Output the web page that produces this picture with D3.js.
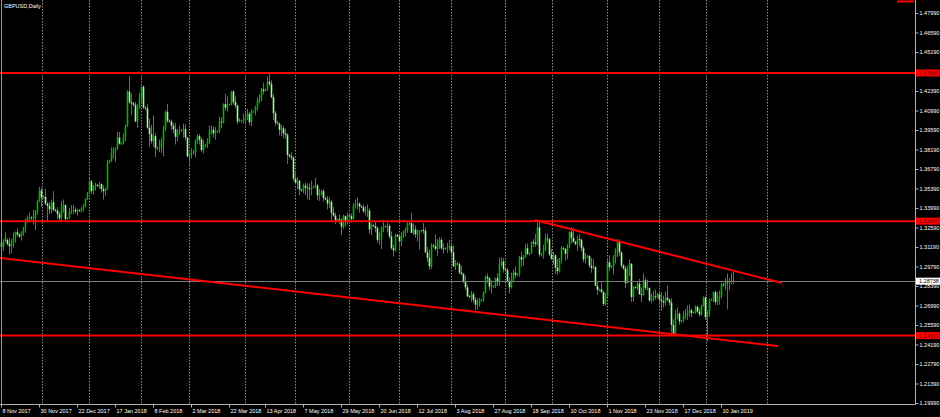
<!DOCTYPE html>
<html><head><meta charset="utf-8">
<script src="https://cdn.jsdelivr.net/npm/d3@7"></script>
<style>html,body{margin:0;padding:0;background:#000;overflow:hidden}</style>
</head><body><svg id="c" width="940" height="417"></svg>
<script>
const chartTitle = "GBPUSD,Daily";
const priceTicks = [1.47990,1.46590,1.45190,1.43790,1.42390,1.40990,1.39590,1.38190,1.36790,1.35390,1.33990,1.32590,1.31190,1.29790,1.28390,1.26990,1.25590,1.24190,1.22790,1.21390,1.19990];
const dateLabels = ["8 Nov 2017","30 Nov 2017","22 Dec 2017","17 Jan 2018","8 Feb 2018","2 Mar 2018","22 Mar 2018","13 Apr 2018","7 May 2018","29 May 2018","20 Jun 2018","12 Jul 2018","3 Aug 2018","27 Aug 2018","18 Sep 2018","10 Oct 2018","1 Nov 2018","23 Nov 2018","17 Dec 2018","10 Jan 2019"];
const dateLabelBars = [0,19,38,57,76,95,114,132,151,170,189,208,227,246,265,284,303,322,341,360];
const monthGridBars = [20.5,44,70,94,122,147,174,199,225,252,275.5,303,329,352.5,383];
const levelPrices = [1.43685,1.33045,1.24829];
const levelLabels = ["1.43685","1.33045","1.24829"];
const bidPrice = 1.28738;
const bidLabel = "1.28738";
const lowerTrend = [[-0.5,1.30400],[388.5,1.24082]];
const upperTrend = [[267,1.33128],[390.5,1.28605]];
const topMarkBars = [448, 456.5];
const topMarkPrice = 1.4882;

// OHLC rows per month [open, high, low, close]
const nov17 = [
[1.3150,1.3175,1.3110,1.3120],[1.3120,1.3175,1.3090,1.3160],[1.3160,1.3225,1.3150,1.3190],
[1.3170,1.3180,1.3130,1.3140],[1.3140,1.3185,1.3065,1.3125],[1.3125,1.3175,1.3075,1.3155],[1.3155,1.3225,1.3115,1.3185],[1.3185,1.3230,1.3150,1.3225],[1.3225,1.3255,1.3195,1.3210],
[1.3210,1.3215,1.3185,1.3195],[1.3195,1.3230,1.3165,1.3230],[1.3230,1.3265,1.3200,1.3260],[1.3260,1.3325,1.3220,1.3305],[1.3305,1.3345,1.3290,1.3330],[1.3330,1.3365,1.3300,1.3330],
[1.3330,1.3340,1.3315,1.3325],[1.3325,1.3385,1.3280,1.3330],[1.3330,1.3385,1.3240,1.3375],[1.3375,1.3460,1.3350,1.3450],[1.3450,1.3550,1.3440,1.3525]];
const dec17 = [
[1.3525,1.3545,1.3405,1.3475],
[1.3475,1.3490,1.3465,1.3480],[1.3480,1.3535,1.3420,1.3430],[1.3430,1.3440,1.3300,1.3415],[1.3415,1.3440,1.3355,1.3390],[1.3390,1.3460,1.3360,1.3440],[1.3440,1.3520,1.3375,1.3385],
[1.3385,1.3395,1.3370,1.3380],[1.3380,1.3405,1.3320,1.3355],[1.3355,1.3375,1.3300,1.3325],[1.3325,1.3450,1.3305,1.3420],[1.3420,1.3460,1.3365,1.3420],[1.3420,1.3425,1.3300,1.3320],
[1.3320,1.3335,1.3315,1.3330],[1.3330,1.3400,1.3320,1.3375],[1.3375,1.3420,1.3355,1.3380],[1.3380,1.3420,1.3355,1.3385],[1.3385,1.3405,1.3360,1.3375],[1.3375,1.3395,1.3345,1.3385],
[1.3385,1.3390,1.3370,1.3380],[1.3380,1.3405,1.3365,1.3395],[1.3395,1.3430,1.3375,1.3415],[1.3415,1.3470,1.3405,1.3465],[1.3465,1.3515,1.3455,1.3510]];
const jan18 = [
[1.3510,1.3615,1.3500,1.3590],[1.3590,1.3600,1.3500,1.3520],[1.3520,1.3565,1.3495,1.3560],[1.3560,1.3580,1.3525,1.3565],
[1.3565,1.3570,1.3550,1.3560],[1.3560,1.3585,1.3535,1.3570],[1.3570,1.3575,1.3510,1.3535],[1.3535,1.3560,1.3460,1.3520],[1.3520,1.3545,1.3485,1.3535],[1.3535,1.3745,1.3525,1.3725],
[1.3725,1.3745,1.3720,1.3740],[1.3740,1.3835,1.3730,1.3795],[1.3795,1.3835,1.3755,1.3820],[1.3820,1.3835,1.3730,1.3825],[1.3825,1.3945,1.3815,1.3905],[1.3905,1.3945,1.3855,1.3860],
[1.3860,1.3870,1.3850,1.3865],[1.3865,1.3935,1.3855,1.3910],[1.3910,1.4000,1.3880,1.3985],[1.3985,1.4245,1.3980,1.4235],[1.4235,1.4345,1.4145,1.4160],[1.4160,1.4220,1.4070,1.4150],
[1.4150,1.4160,1.4130,1.4140],[1.4140,1.4160,1.4015,1.4020],[1.4020,1.4145,1.3975,1.4120],[1.4120,1.4225,1.4110,1.4190]];
const feb18 = [
[1.4190,1.4285,1.4150,1.4270],[1.4270,1.4280,1.4110,1.4120],
[1.4120,1.4130,1.4100,1.4115],[1.4115,1.4145,1.3965,1.3975],[1.3975,1.4040,1.3840,1.3930],[1.3930,1.3995,1.3860,1.3880],[1.3880,1.4065,1.3840,1.3915],[1.3915,1.3935,1.3765,1.3830],
[1.3830,1.3840,1.3815,1.3830],[1.3830,1.3890,1.3800,1.3830],[1.3830,1.3900,1.3795,1.3880],[1.3880,1.3990,1.3770,1.3965],[1.3965,1.4100,1.3950,1.4090],[1.4090,1.4145,1.4010,1.4025],
[1.4025,1.4035,1.4010,1.4020],[1.4020,1.4035,1.3960,1.3990],[1.3990,1.4010,1.3935,1.3965],[1.3965,1.4010,1.3855,1.3910],[1.3910,1.3965,1.3880,1.3945],[1.3945,1.3990,1.3925,1.3955],
[1.3955,1.3965,1.3945,1.3960],[1.3960,1.4005,1.3905,1.3965],[1.3965,1.4000,1.3885,1.3905],[1.3905,1.3910,1.3765,1.3770]];
const mar18 = [
[1.3770,1.3795,1.3710,1.3795],[1.3795,1.3830,1.3755,1.3800],
[1.3800,1.3815,1.3780,1.3800],[1.3800,1.3895,1.3765,1.3880],[1.3880,1.3930,1.3860,1.3915],[1.3915,1.3930,1.3855,1.3890],[1.3890,1.3905,1.3800,1.3815],[1.3815,1.3890,1.3790,1.3850],
[1.3850,1.3860,1.3835,1.3850],[1.3850,1.3900,1.3830,1.3875],[1.3875,1.3990,1.3860,1.3960],[1.3960,1.3990,1.3925,1.3960],[1.3960,1.3985,1.3905,1.3935],[1.3935,1.3980,1.3890,1.3945],
[1.3945,1.3960,1.3940,1.3955],[1.3955,1.4055,1.3935,1.4020],[1.4020,1.4050,1.3975,1.4015],[1.4015,1.4150,1.4005,1.4145],[1.4145,1.4220,1.4100,1.4120],[1.4120,1.4200,1.4090,1.4140],
[1.4140,1.4150,1.4135,1.4145],[1.4145,1.4240,1.4135,1.4235],[1.4235,1.4245,1.4140,1.4160],[1.4160,1.4200,1.4115,1.4135],[1.4135,1.4140,1.4000,1.4020],[1.4020,1.4045,1.4015,1.4025]];
const apr18 = [
[1.4025,1.4035,1.4010,1.4030],[1.4030,1.4075,1.4005,1.4030],[1.4030,1.4085,1.4000,1.4050],[1.4050,1.4110,1.4030,1.4075],[1.4075,1.4090,1.3995,1.4015],[1.4015,1.4110,1.3985,1.4090],
[1.4090,1.4100,1.4080,1.4095],[1.4095,1.4135,1.4065,1.4120],[1.4120,1.4195,1.4100,1.4170],[1.4170,1.4215,1.4150,1.4180],[1.4180,1.4260,1.4165,1.4250],[1.4250,1.4300,1.4215,1.4240],
[1.4240,1.4255,1.4235,1.4250],[1.4250,1.4345,1.4240,1.4305],[1.4305,1.4377,1.4275,1.4290],[1.4290,1.4315,1.4185,1.4195],[1.4195,1.4215,1.4030,1.4080],[1.4080,1.4095,1.3990,1.4010],
[1.4010,1.4025,1.4000,1.4005],[1.4005,1.4015,1.3920,1.3960],[1.3960,1.3995,1.3915,1.3970],[1.3970,1.3990,1.3900,1.3935],[1.3935,1.3970,1.3895,1.3925],[1.3925,1.3935,1.3715,1.3780],
[1.3780,1.3790,1.3760,1.3770],[1.3770,1.3800,1.3745,1.3760]];
const may18 = [
[1.3760,1.3770,1.3590,1.3610],[1.3610,1.3650,1.3570,1.3580],[1.3580,1.3620,1.3535,1.3595],[1.3595,1.3600,1.3490,1.3530],
[1.3530,1.3540,1.3515,1.3525],[1.3525,1.3575,1.3505,1.3560],[1.3560,1.3580,1.3490,1.3545],[1.3545,1.3575,1.3460,1.3540],[1.3540,1.3575,1.3455,1.3535],[1.3535,1.3595,1.3490,1.3550],
[1.3550,1.3560,1.3540,1.3555],[1.3555,1.3615,1.3540,1.3560],[1.3560,1.3570,1.3455,1.3490],[1.3490,1.3535,1.3450,1.3500],[1.3500,1.3530,1.3490,1.3520],[1.3520,1.3535,1.3445,1.3470],
[1.3470,1.3480,1.3455,1.3460],[1.3460,1.3485,1.3390,1.3430],[1.3430,1.3475,1.3400,1.3445],[1.3445,1.3455,1.3305,1.3365],[1.3365,1.3405,1.3335,1.3345],[1.3345,1.3365,1.3285,1.3310],
[1.3310,1.3325,1.3300,1.3320],[1.3320,1.3355,1.3285,1.3315],[1.3315,1.3325,1.3205,1.3265],[1.3265,1.3350,1.3250,1.3340],[1.3340,1.3345,1.3265,1.3300]];
const jun18 = [
[1.3300,1.3365,1.3280,1.3345],
[1.3345,1.3355,1.3330,1.3340],[1.3340,1.3360,1.3295,1.3320],[1.3320,1.3435,1.3315,1.3415],[1.3415,1.3460,1.3395,1.3420],[1.3420,1.3475,1.3390,1.3430],[1.3430,1.3440,1.3365,1.3410],
[1.3410,1.3420,1.3400,1.3405],[1.3405,1.3425,1.3365,1.3375],[1.3375,1.3410,1.3345,1.3380],[1.3380,1.3425,1.3335,1.3380],[1.3380,1.3395,1.3215,1.3245],[1.3245,1.3290,1.3205,1.3275],
[1.3275,1.3285,1.3265,1.3270],[1.3270,1.3300,1.3225,1.3255],[1.3255,1.3265,1.3150,1.3170],[1.3170,1.3225,1.3135,1.3180],[1.3180,1.3265,1.3105,1.3260],[1.3260,1.3315,1.3225,1.3265],
[1.3265,1.3275,1.3255,1.3270],[1.3270,1.3295,1.3225,1.3270],[1.3270,1.3285,1.3180,1.3195],[1.3195,1.3230,1.3100,1.3110],[1.3110,1.3135,1.3050,1.3095],[1.3095,1.3215,1.3085,1.3205]];
const jul18 = [
[1.3205,1.3215,1.3190,1.3195],[1.3195,1.3205,1.3100,1.3160],[1.3160,1.3225,1.3125,1.3205],[1.3205,1.3240,1.3185,1.3230],[1.3230,1.3260,1.3195,1.3240],[1.3240,1.3300,1.3220,1.3285],
[1.3285,1.3300,1.3275,1.3290],[1.3290,1.3365,1.3220,1.3220],[1.3220,1.3285,1.3205,1.3245],[1.3245,1.3275,1.3185,1.3210],[1.3210,1.3245,1.3160,1.3220],[1.3220,1.3240,1.3100,1.3235],
[1.3235,1.3245,1.3225,1.3240],[1.3240,1.3290,1.3215,1.3235],[1.3235,1.3260,1.3080,1.3080],[1.3080,1.3120,1.3010,1.3040],[1.3040,1.3100,1.2955,1.2980],[1.2980,1.3145,1.2960,1.3130],
[1.3130,1.3140,1.3115,1.3125],[1.3125,1.3210,1.3095,1.3105],[1.3105,1.3175,1.3055,1.3150],[1.3150,1.3190,1.3105,1.3170],[1.3170,1.3185,1.3100,1.3110],[1.3110,1.3145,1.3070,1.3105],
[1.3105,1.3115,1.3095,1.3110],[1.3110,1.3150,1.3075,1.3120],[1.3120,1.3170,1.3095,1.3125]];
const aug18 = [
[1.3125,1.3140,1.3065,1.3080],[1.3080,1.3130,1.2975,1.2980],[1.2980,1.3025,1.2955,1.3000],
[1.3000,1.3010,1.2990,1.2995],[1.2995,1.3005,1.2925,1.2935],[1.2935,1.2985,1.2915,1.2925],[1.2925,1.2935,1.2860,1.2870],[1.2870,1.2915,1.2810,1.2830],[1.2830,1.2850,1.2760,1.2765],
[1.2765,1.2775,1.2750,1.2760],[1.2760,1.2805,1.2725,1.2780],[1.2780,1.2795,1.2720,1.2740],[1.2740,1.2760,1.2662,1.2705],[1.2705,1.2750,1.2670,1.2705],[1.2705,1.2755,1.2690,1.2735],
[1.2735,1.2745,1.2725,1.2740],[1.2740,1.2800,1.2725,1.2795],[1.2795,1.2915,1.2785,1.2905],[1.2905,1.2930,1.2860,1.2895],[1.2895,1.2900,1.2805,1.2835],[1.2835,1.2880,1.2785,1.2835],
[1.2835,1.2845,1.2825,1.2840],[1.2840,1.2900,1.2825,1.2895],[1.2895,1.2930,1.2840,1.2875],[1.2875,1.3045,1.2840,1.3000],[1.3000,1.3045,1.2980,1.3015],[1.3015,1.3040,1.2935,1.2960]];
const sep18 = [
[1.2960,1.2970,1.2950,1.2955],[1.2955,1.2965,1.2865,1.2870],[1.2870,1.2900,1.2785,1.2830],[1.2830,1.2935,1.2820,1.2880],[1.2880,1.2960,1.2865,1.2935],[1.2935,1.2980,1.2900,1.2920],
[1.2920,1.2930,1.2910,1.2925],[1.2925,1.3055,1.2905,1.3045],[1.3045,1.3085,1.2980,1.3030],[1.3030,1.3060,1.2985,1.3045],[1.3045,1.3140,1.3040,1.3110],[1.3110,1.3145,1.3060,1.3070],
[1.3070,1.3080,1.3060,1.3075],[1.3075,1.3160,1.3070,1.3155],[1.3155,1.3175,1.3120,1.3150],[1.3150,1.3215,1.3120,1.3140],[1.3140,1.3295,1.3130,1.3260],[1.3260,1.3300,1.3050,1.3065],
[1.3065,1.3075,1.3050,1.3070],[1.3070,1.3135,1.3035,1.3100],[1.3100,1.3215,1.3090,1.3180],[1.3180,1.3215,1.3150,1.3175],[1.3175,1.3185,1.3055,1.3065],[1.3065,1.3105,1.3025,1.3035]];
const oct18 = [
[1.3040,1.3085,1.2995,1.3060],[1.3060,1.3065,1.2925,1.2970],[1.2970,1.3035,1.2920,1.2945],[1.2945,1.3040,1.2935,1.3030],[1.3030,1.3125,1.3000,1.3110],
[1.3110,1.3120,1.3095,1.3105],[1.3105,1.3110,1.3020,1.3070],[1.3070,1.3140,1.3030,1.3130],[1.3130,1.3230,1.3110,1.3225],[1.3225,1.3260,1.3145,1.3185],[1.3185,1.3255,1.3150,1.3155],
[1.3155,1.3165,1.3130,1.3140],[1.3140,1.3200,1.3090,1.3175],[1.3175,1.3215,1.3125,1.3170],[1.3170,1.3180,1.3085,1.3110],[1.3110,1.3125,1.3010,1.3030],[1.3030,1.3075,1.3000,1.3050],
[1.3050,1.3060,1.3040,1.3055],[1.3055,1.3060,1.2970,1.2985],[1.2985,1.3040,1.2935,1.2970],[1.2970,1.3035,1.2960,1.2975],[1.2975,1.2985,1.2840,1.2840],[1.2840,1.2875,1.2775,1.2810],
[1.2810,1.2820,1.2800,1.2815],[1.2815,1.2875,1.2790,1.2795],[1.2795,1.2800,1.2695,1.2710],[1.2710,1.2790,1.2700,1.2765]];
const nov18 = [
[1.2765,1.3040,1.2760,1.3010],[1.3010,1.3060,1.2945,1.2975],
[1.2975,1.2990,1.2965,1.2980],[1.2980,1.3060,1.2920,1.3050],[1.3050,1.3110,1.3000,1.3100],[1.3100,1.3175,1.3045,1.3155],[1.3155,1.3175,1.3055,1.3080],[1.3080,1.3085,1.2970,1.2985],
[1.2985,1.2995,1.2955,1.2965],[1.2965,1.2985,1.2825,1.2860],[1.2860,1.2985,1.2855,1.2965],[1.2965,1.3030,1.2910,1.3000],[1.3000,1.3000,1.2725,1.2760],[1.2760,1.2840,1.2725,1.2830],
[1.2830,1.2840,1.2820,1.2825],[1.2825,1.2870,1.2810,1.2855],[1.2855,1.2890,1.2775,1.2780],[1.2780,1.2830,1.2725,1.2775],[1.2775,1.2930,1.2770,1.2880],[1.2880,1.2900,1.2810,1.2825],
[1.2825,1.2885,1.2805,1.2825],[1.2825,1.2830,1.2725,1.2735],[1.2735,1.2785,1.2715,1.2750],[1.2750,1.2805,1.2730,1.2765],[1.2765,1.2815,1.2740,1.2760]];
const dec18 = [
[1.2760,1.2790,1.2750,1.2780],[1.2780,1.2790,1.2715,1.2740],[1.2740,1.2795,1.2660,1.2730],[1.2730,1.2770,1.2685,1.2720],[1.2720,1.2800,1.2700,1.2755],[1.2755,1.2840,1.2730,1.2740],
[1.2740,1.2750,1.2700,1.2720],[1.2720,1.2750,1.2505,1.2560],[1.2560,1.2600,1.2475,1.2490],[1.2490,1.2670,1.2480,1.2635],[1.2635,1.2685,1.2600,1.2640],[1.2640,1.2650,1.2560,1.2585],
[1.2585,1.2595,1.2575,1.2590],[1.2590,1.2660,1.2580,1.2625],[1.2625,1.2675,1.2600,1.2640],[1.2640,1.2700,1.2595,1.2650],[1.2650,1.2705,1.2620,1.2665],[1.2665,1.2680,1.2615,1.2645],
[1.2645,1.2655,1.2640,1.2650],[1.2650,1.2700,1.2640,1.2690],[1.2690,1.2700,1.2645,1.2655],[1.2655,1.2680,1.2620,1.2635],[1.2635,1.2705,1.2625,1.2700],[1.2700,1.2765,1.2690,1.2755]];
const jan19 = [
[1.2755,1.2770,1.2595,1.2615],[1.2615,1.2665,1.2440,1.2650],[1.2650,1.2750,1.2620,1.2735],
[1.2735,1.2750,1.2730,1.2745],[1.2745,1.2800,1.2720,1.2795],[1.2795,1.2805,1.2705,1.2725],[1.2725,1.2795,1.2700,1.2760],[1.2760,1.2805,1.2705,1.2765],[1.2765,1.2865,1.2750,1.2850],
[1.2850,1.2860,1.2835,1.2845],[1.2845,1.2895,1.2810,1.2870],[1.2870,1.2930,1.2670,1.2865],[1.2865,1.2895,1.2810,1.2870],[1.2870,1.2935,1.2850,1.2875],[1.2875,1.2940,1.2855,1.28738]];

const candles = [].concat(nov17,dec17,jan18,feb18,mar18,apr18,may18,jun18,jul18,aug18,sep18,oct18,nov18,dec18,jan19)
  .map((r,i)=>({i,o:r[0],h:r[1],l:r[2],c:r[3]}));

const W = 940, H = 417, plotR = 915, axisY = 404;
const svg = d3.select("#c");
svg.append("rect").attr("width",W).attr("height",H).attr("fill","#000");
const x = d3.scaleLinear().domain([-0.5, 457]).range([0, plotR]);
const y = d3.scaleLinear().domain([1.19990, 1.47990]).range([403, 13]);
const font = "'Liberation Sans', Arial, sans-serif";

// vertical month grid
svg.append("g").selectAll("line").data(monthGridBars).join("line")
  .attr("x1",d=>Math.round(x(d))+0.5).attr("x2",d=>Math.round(x(d))+0.5)
  .attr("y1",0).attr("y2",axisY)
  .attr("stroke","#8c8c8c").attr("stroke-width",1).attr("stroke-dasharray","1.5,1.5");

// candles
const cg = svg.append("g");
cg.selectAll("line").data(candles).join("line")
  .attr("x1",d=>x(d.i)+0.5).attr("x2",d=>x(d.i)+0.5)
  .attr("y1",d=>y(d.h)).attr("y2",d=>y(d.l))
  .attr("stroke","#00b400").attr("stroke-width",1);
cg.selectAll("rect").data(candles).join("rect")
  .attr("x",d=>x(d.i)-0.3).attr("width",1.6)
  .attr("y",d=>y(Math.max(d.o,d.c)))
  .attr("height",d=>Math.max(0.8, Math.abs(y(d.o)-y(d.c))))
  .attr("fill",d=>d.c>=d.o ? "#00b400" : "#96ff96");

// horizontal red levels
svg.append("g").selectAll("line").data(levelPrices).join("line")
  .attr("x1",0).attr("x2",plotR).attr("y1",d=>y(d)).attr("y2",d=>y(d))
  .attr("stroke","#ff0000").attr("stroke-width",2);
// bid line
svg.append("line").attr("x1",0).attr("x2",plotR).attr("y1",Math.round(y(bidPrice))+0.5).attr("y2",Math.round(y(bidPrice))+0.5)
  .attr("stroke","#7a7a7a").attr("stroke-width",1);
// trend lines
const tl = d3.line().x(d=>x(d[0])).y(d=>y(d[1]));
[lowerTrend, upperTrend].forEach(t=>{
  svg.append("path").attr("d",tl(t)).attr("fill","none").attr("stroke","#ff0000").attr("stroke-width",2);
});
// small red mark at the top right
svg.append("line").attr("x1",x(topMarkBars[0])).attr("x2",x(topMarkBars[1]))
  .attr("y1",y(topMarkPrice)).attr("y2",y(topMarkPrice)).attr("stroke","#ff0000").attr("stroke-width",2);

// right axis
svg.append("line").attr("x1",plotR+0.5).attr("x2",plotR+0.5).attr("y1",0).attr("y2",axisY+0.5).attr("stroke","#b0b0b0");
const yAxis = d3.axisRight(y).tickValues(priceTicks).tickFormat(d3.format(".5f")).tickSize(3).tickPadding(1);
const ya = svg.append("g").attr("transform",`translate(${plotR+0.5},0)`).call(yAxis);
ya.select(".domain").remove();
ya.selectAll("line").attr("stroke","#b0b0b0");
ya.selectAll("text").attr("fill","#ffffff").attr("font-family",font).attr("font-size","5.5px");

// bottom axis
svg.append("line").attr("x1",0).attr("x2",plotR+0.5).attr("y1",axisY+0.5).attr("y2",axisY+0.5).attr("stroke","#b0b0b0");
const xa = svg.append("g").attr("transform",`translate(0,${axisY+0.5})`);
const lg = xa.selectAll("g").data(dateLabelBars).join("g").attr("transform",d=>`translate(${Math.round(x(d))+0.5},0)`);
lg.append("line").attr("y1",0).attr("y2",3).attr("stroke","#b0b0b0");
lg.append("text").text((d,i)=>dateLabels[i]).attr("x",1).attr("y",8.5)
  .attr("fill","#ffffff").attr("font-family",font).attr("font-size","5.5px");

// left border
svg.append("line").attr("x1",1.5).attr("x2",1.5).attr("y1",0).attr("y2",axisY).attr("stroke","#9a9a9a");

// price labels on right
levelPrices.forEach((p,i)=>{
  const yy = y(p);
  svg.append("rect").attr("x",plotR+1).attr("y",yy-3.5).attr("width",W-plotR-1).attr("height",7).attr("fill","#ff0000");
  svg.append("text").text(levelLabels[i]).attr("x",plotR+4).attr("y",yy+2)
    .attr("fill","#800000").attr("font-family",font).attr("font-size","5.5px");
});
{
  const yy = y(bidPrice);
  svg.append("rect").attr("x",plotR+1).attr("y",yy-3.5).attr("width",W-plotR-1).attr("height",7).attr("fill","#ffffff");
  svg.append("text").text(bidLabel).attr("x",plotR+4).attr("y",yy+2)
    .attr("fill","#000000").attr("font-family",font).attr("font-size","5.5px");
}

// title
svg.append("text").text(chartTitle).attr("x",4).attr("y",8).attr("fill","#ffffff")
  .attr("font-family",font).attr("font-size","5.5px");
</script>
</body></html>
